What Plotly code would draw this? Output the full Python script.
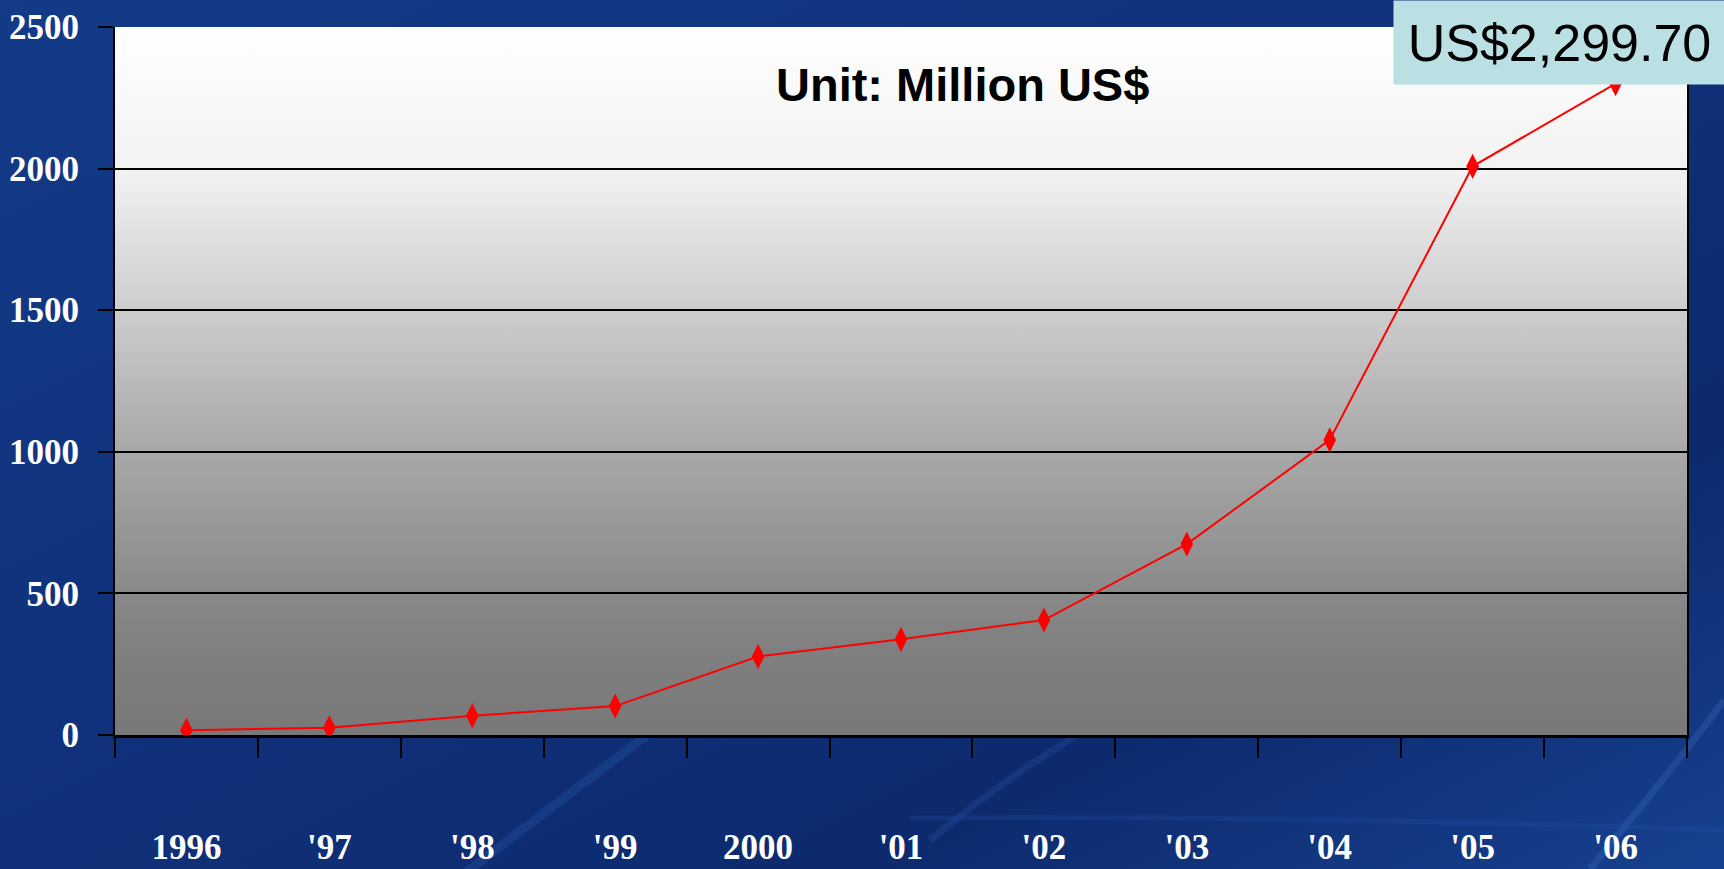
import base64
import plotly.graph_objects as go

# ---- data ----
years = ["1996", "'97", "'98", "'99", "2000", "'01", "'02", "'03", "'04", "'05", "'06"]
values = [17, 26, 68, 102, 277, 338, 406, 674, 1042, 2008, 2299.7]
y_ticks = [0, 500, 1000, 1500, 2000, 2500]
unit_label = "Unit: Million US$"
callout_label = "US$2,299.70"

W, H = 1724, 869
ML, MR, MT, MB = 115, 37, 27, 134
PW, PH = W - ML - MR, H - MT - MB


def svg_uri(svg):
    return "data:image/svg+xml;base64," + base64.b64encode(svg.encode()).decode()


bg_svg = f"""<svg xmlns='http://www.w3.org/2000/svg' width='{W}' height='{H}' viewBox='0 0 {W} {H}' preserveAspectRatio='none'>
<defs>
<linearGradient id='g' x1='0' y1='0' x2='1' y2='1'>
<stop offset='0' stop-color='#133b88'/>
<stop offset='0.45' stop-color='#10317b'/>
<stop offset='0.75' stop-color='#0d2a6e'/>
<stop offset='1' stop-color='#17418f'/>
</linearGradient>
</defs>
<rect width='{W}' height='{H}' fill='url(#g)'/>
<path d='M 430 900 Q 600 770 760 650' stroke='#2a5cb0' stroke-opacity='0.3' stroke-width='9' fill='none'/>
<path d='M 930 840 Q 1100 700 1280 640' stroke='#2a5cb0' stroke-opacity='0.25' stroke-width='7' fill='none'/>
<path d='M 910 818 Q 1300 815 1724 830' stroke='#2a5cb0' stroke-opacity='0.2' stroke-width='5' fill='none'/>
<path d='M 1590 869 Q 1680 760 1724 700' stroke='#3566b8' stroke-opacity='0.35' stroke-width='7' fill='none'/>
</svg>"""

plot_svg = """<svg xmlns='http://www.w3.org/2000/svg' width='100' height='100' viewBox='0 0 100 100' preserveAspectRatio='none'>
<defs>
<linearGradient id='p' x1='0' y1='0' x2='0' y2='1'>
<stop offset='0' stop-color='#ffffff'/>
<stop offset='0.2' stop-color='#f2f2f2'/>
<stop offset='0.6' stop-color='#a8a8a8'/>
<stop offset='0.85' stop-color='#828282'/>
<stop offset='1' stop-color='#787878'/>
</linearGradient>
</defs>
<rect width='100' height='100' fill='url(#p)'/>
</svg>"""

tick_font = dict(family="Liberation Serif", size=35, color="white", weight="bold")

fig = go.Figure()
fig.add_trace(go.Scatter(
    x=years, y=values, mode="lines+markers",
    line=dict(color="#ff0000", width=2),
    marker=dict(symbol="diamond-tall", size=18, color="#ff0000"),
    showlegend=False, hoverinfo="x+y",
))

fig.update_layout(
    width=W, height=H,
    margin=dict(l=ML, r=MR, t=MT, b=MB, autoexpand=False),
    paper_bgcolor="#10327c",
    plot_bgcolor="rgba(0,0,0,0)",
    images=[
        dict(source=svg_uri(bg_svg), xref="paper", yref="paper",
             x=-ML / PW, y=1 + MT / PH, sizex=W / PW, sizey=H / PH,
             sizing="stretch", layer="below", xanchor="left", yanchor="top"),
        dict(source=svg_uri(plot_svg), xref="paper", yref="paper",
             x=0, y=1, sizex=1, sizey=1,
             sizing="stretch", layer="below", xanchor="left", yanchor="top"),
    ],
    xaxis=dict(
        type="category", tickson="boundaries", range=[-0.5, len(years) - 0.5],
        automargin=False,
        showgrid=False, showline=True, linecolor="black", linewidth=3, mirror=False,
        ticks="outside", ticklen=20, tickwidth=2, tickcolor="black",
        tickfont=tick_font,
        ticklabelstandoff=79,
        zeroline=False,
    ),
    yaxis=dict(
        range=[0, 2500], tickvals=y_ticks, automargin=False,
        showgrid=True, gridcolor="black", gridwidth=2,
        showline=True, linecolor="black", linewidth=2, mirror=True,
        ticks="outside", ticklen=15, tickwidth=2, tickcolor="black",
        tickfont=tick_font,
        ticklabelstandoff=12,
        zeroline=False,
    ),
    annotations=[
        dict(text=unit_label, xref="paper", yref="paper",
             x=(962 - ML) / PW, y=(H - MB - 85) / PH, showarrow=False,
             xanchor="center", yanchor="middle",
             font=dict(family="Liberation Sans", size=47, color="black", weight="bold")),
        dict(text=callout_label, xref="paper", yref="paper",
             x=(1393 - ML) / PW, y=(H - MB) / PH, showarrow=False,
             xanchor="left", yanchor="top", width=331, height=83,
             align="center", valign="middle", bgcolor="#bae0e4", borderpad=0,
             font=dict(family="Liberation Sans", size=52, color="black")),
    ],
)

fig.write_html("out.html", config={"displayModeBar": False},
               post_script="document.body.style.margin='0';document.body.style.overflow='hidden';")
